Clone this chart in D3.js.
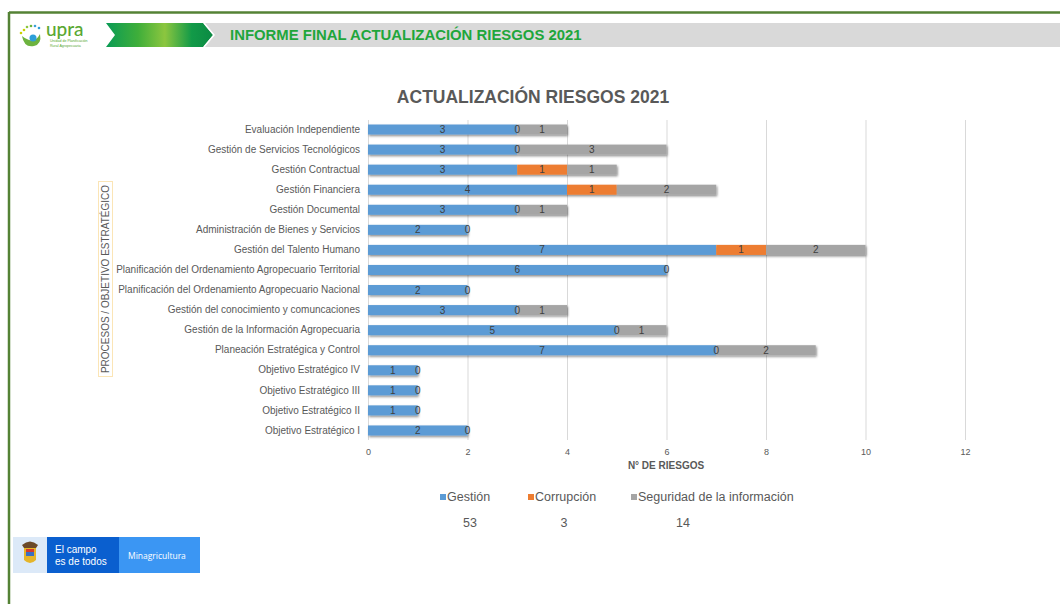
<!DOCTYPE html>
<html>
<head>
<meta charset="utf-8">
<script src="https://cdn.jsdelivr.net/npm/d3@7"></script>
<style>
  body { margin: 0; background: #fff; }
  svg { display: block; font-family: "Liberation Sans", Arial, sans-serif; }
</style>
</head>
<body>
<svg id="chart" width="1060" height="604"></svg>
<script>
// categories, top to bottom
const categories = [
  'Evaluación Independiente',
  'Gestión de Servicios Tecnológicos',
  'Gestión Contractual',
  'Gestión Financiera',
  'Gestión Documental',
  'Administración de Bienes y Servicios',
  'Gestión del Talento Humano',
  'Planificación del Ordenamiento Agropecuario Territorial',
  'Planificación del Ordenamiento Agropecuario Nacional',
  'Gestión del conocimiento y comuncaciones',
  'Gestión de la Información Agropecuaria',
  'Planeación Estratégica y Control',
  'Objetivo Estratégico IV',
  'Objetivo Estratégico III',
  'Objetivo Estratégico II',
  'Objetivo Estratégico I'
];
const gestion    = [3, 3, 3, 4, 3, 2, 7, 6, 2, 3, 5, 7, 1, 1, 1, 2];
const corrupcion = [0, 0, 1, 1, 0, 0, 1, 0, 0, 0, 0, 0, 0, 0, 0, 0];
const seguridad  = [1, 3, 1, 2, 1, 0, 2, 0, 0, 1, 1, 2, 0, 0, 0, 0];
const seriesNames = ['Gestión', 'Corrupción', 'Seguridad de la información'];
const xTicks = [0, 2, 4, 6, 8, 10, 12];

const colors = ['#5b9bd5', '#ed7d31', '#a5a5a5'];
const textGray = '#595959';

const svg = d3.select('#chart');
const defs = svg.append('defs');

// drop shadow for the bars
const shadow = defs.append('filter').attr('id', 'shadow')
  .attr('x', '-5%').attr('y', '-40%').attr('width', '110%').attr('height', '200%');
shadow.append('feDropShadow')
  .attr('dx', 1).attr('dy', 1.5).attr('stdDeviation', 1)
  .attr('flood-color', '#000').attr('flood-opacity', 0.45);

// ---------- page frame & header ----------
svg.append('line').attr('x1', 9).attr('x2', 1060).attr('y1', 12.5).attr('y2', 12.5)
  .attr('stroke', '#548235').attr('stroke-width', 2.5);
svg.append('line').attr('x1', 9).attr('x2', 9).attr('y1', 12).attr('y2', 604)
  .attr('stroke', '#548235').attr('stroke-width', 2.5);

svg.append('rect').attr('x', 200).attr('y', 23).attr('width', 860).attr('height', 24)
  .attr('fill', '#d9d9d9');

const grad = defs.append('linearGradient').attr('id', 'hdrGrad');
grad.append('stop').attr('offset', '0%').attr('stop-color', '#0a9b55');
grad.append('stop').attr('offset', '30%').attr('stop-color', '#3fae3a');
grad.append('stop').attr('offset', '55%').attr('stop-color', '#8cc63f');
grad.append('stop').attr('offset', '80%').attr('stop-color', '#129a48');
grad.append('stop').attr('offset', '100%').attr('stop-color', '#0b8a43');
svg.append('polygon')
  .attr('points', '106,23 203,23 213,35 203,47 106,47 115,35')
  .attr('fill', 'url(#hdrGrad)');
svg.append('polyline')
  .attr('points', '204,23 214,35 204,47')
  .attr('fill', 'none').attr('stroke', '#fff').attr('stroke-width', 1.5);
svg.append('polygon')
  .attr('points', '96,24 103,24 111,35 103,46 96,46 104,35')
  .attr('fill', '#fff');

// upra logo (approximation)
const logo = svg.append('g');
logo.append('path').attr('d', 'M22,36 Q24,48 34,46 Q42,44 40,34 Q36,42 29,40 Q24,38 22,36 Z')
  .attr('fill', '#6db33f');
logo.append('circle').attr('cx', 33).attr('cy', 38).attr('r', 3.5).attr('fill', '#2e9fd8');
[[24, 30, '#c9d400'], [27, 27, '#8cc63f'], [31, 26, '#6db33f'], [35, 26, '#3aa0d8'], [39, 28, '#2e9fd8'], [21, 33, '#c9d400']]
  .forEach(d => logo.append('circle').attr('cx', d[0]).attr('cy', d[1]).attr('r', 1.3).attr('fill', d[2]));
logo.append('text').attr('x', 46).attr('y', 36).attr('font-size', 19).attr('fill', '#5aa832')
  .attr('font-family', 'Lato, sans-serif').attr('font-weight', 500).text('upra');
logo.append('text').attr('x', 50).attr('y', 42).attr('font-size', 3.6).attr('fill', '#5aa832')
  .text('Unidad de Planificación');
logo.append('text').attr('x', 50).attr('y', 46.5).attr('font-size', 3.6).attr('fill', '#5aa832')
  .text('Rural Agropecuaria');

svg.append('text').attr('x', 230).attr('y', 40)
  .attr('font-size', 14.9).attr('font-weight', 'bold').attr('fill', '#1fa63b')
  .text('INFORME FINAL ACTUALIZACIÓN RIESGOS 2021');

// ---------- chart ----------
const rows = categories.map((c, i) => ({
  name: c,
  values: [gestion[i], corrupcion[i], seguridad[i]]
}));

const x = d3.scaleLinear().domain([0, 12]).range([368, 965]);
const y = d3.scaleBand().domain(categories).range([119.5, 440.5]).paddingInner(0.5).paddingOuter(0.25);

svg.append('text').attr('x', 533).attr('y', 103).attr('text-anchor', 'middle')
  .attr('font-size', 17.5).attr('font-weight', 'bold').attr('fill', textGray)
  .text('ACTUALIZACIÓN RIESGOS 2021');

// gridlines
svg.append('g')
  .attr('transform', 'translate(0,440)')
  .call(d3.axisBottom(x).tickValues(xTicks).tickSize(-320).tickFormat(''))
  .call(g => g.select('.domain').remove())
  .call(g => g.selectAll('line').attr('stroke', '#d9d9d9'));

// x axis labels
svg.append('g')
  .attr('transform', 'translate(0,446)')
  .call(d3.axisBottom(x).tickValues(xTicks).tickSize(0).tickPadding(3))
  .call(g => g.select('.domain').remove())
  .call(g => g.selectAll('text').attr('font-size', 9).attr('fill', textGray)
    .attr('font-family', '"Liberation Sans", Arial, sans-serif'));

svg.append('text').attr('x', 666).attr('y', 469).attr('text-anchor', 'middle')
  .attr('font-size', 10).attr('font-weight', 'bold').attr('fill', textGray)
  .text('N° DE RIESGOS');

// y axis labels
svg.append('g')
  .attr('transform', 'translate(368,0)')
  .call(d3.axisLeft(y).tickSize(0).tickPadding(8))
  .call(g => g.select('.domain').remove())
  .call(g => g.selectAll('text').attr('font-size', 10).attr('fill', textGray)
    .attr('font-family', '"Liberation Sans", Arial, sans-serif'));

// y axis title
svg.append('rect').attr('x', 98.5).attr('y', 181.5).attr('width', 14).attr('height', 195)
  .attr('fill', 'none').attr('stroke', '#fbe5b6').attr('stroke-width', 1);
svg.append('text')
  .attr('transform', 'translate(109,279) rotate(-90)')
  .attr('text-anchor', 'middle').attr('font-size', 10).attr('fill', textGray)
  .text('PROCESOS / OBJETIVO ESTRATÉGICO');

// stacked bars
const segs = [];
rows.forEach(r => {
  let acc = 0;
  r.values.forEach((v, k) => {
    segs.push({ name: r.name, k: k, v: v, x0: acc, x1: acc + v });
    acc += v;
  });
});

const barG = svg.append('g');
rows.forEach(r => {
  const g = barG.append('g').attr('filter', 'url(#shadow)');
  g.selectAll('rect')
    .data(segs.filter(s => s.name === r.name && s.v > 0))
    .enter().append('rect')
    .attr('x', s => x(s.x0))
    .attr('y', s => y(s.name))
    .attr('width', s => x(s.x1) - x(s.x0))
    .attr('height', y.bandwidth())
    .attr('fill', s => colors[s.k]);
});

// data labels (zeros for Seguridad would sit on top of the Corrupción zero)
svg.append('g').selectAll('text')
  .data(segs.filter(s => !(s.k === 2 && s.v === 0)))
  .enter().append('text')
  .attr('x', s => x((s.x0 + s.x1) / 2))
  .attr('y', s => y(s.name) + y.bandwidth() / 2 + 3.5)
  .attr('text-anchor', 'middle')
  .attr('font-size', 10).attr('fill', '#404040')
  .text(s => s.v);

// legend + totals
const legendX = [440, 528, 631];
const totals = [d3.sum(gestion), d3.sum(corrupcion), d3.sum(seguridad)];
const totalX = [470, 564, 683];
seriesNames.forEach((n, k) => {
  svg.append('rect').attr('x', legendX[k]).attr('y', 494).attr('width', 6).attr('height', 6)
    .attr('fill', colors[k]);
  svg.append('text').attr('x', legendX[k] + 7).attr('y', 501)
    .attr('font-size', 12.5).attr('fill', textGray).text(n);
  svg.append('text').attr('x', totalX[k]).attr('y', 527).attr('text-anchor', 'middle')
    .attr('font-size', 12.5).attr('fill', textGray).text(totals[k]);
});

// ---------- footer logo ----------
svg.append('rect').attr('x', 13).attr('y', 537).attr('width', 34).attr('height', 36).attr('fill', '#dce9f8');
const shield = svg.append('g');
shield.append('path').attr('d', 'M22,545 Q30,538 38,545 L36,548 L24,548 Z').attr('fill', '#6b4a2a');
shield.append('path').attr('d', 'M24,548 L36,548 L36,560 Q30,566 24,560 Z').attr('fill', '#e5b52a');
shield.append('rect').attr('x', 26).attr('y', 552).attr('width', 8).attr('height', 4).attr('fill', '#3a6fc4');
shield.append('rect').attr('x', 26).attr('y', 549).attr('width', 8).attr('height', 3).attr('fill', '#d43b2f');
svg.append('rect').attr('x', 47).attr('y', 537).attr('width', 72).attr('height', 36).attr('fill', '#0a5fcf');
svg.append('rect').attr('x', 119).attr('y', 537).attr('width', 81).attr('height', 36).attr('fill', '#3b96f3');
svg.append('text').attr('x', 55).attr('y', 553).attr('font-size', 10).attr('fill', '#fff')
  .text('El campo');
svg.append('text').attr('x', 55).attr('y', 565).attr('font-size', 10).attr('fill', '#fff')
  .text('es de todos');
svg.append('text').attr('x', 128).attr('y', 559).attr('font-size', 8.5).attr('fill', '#fff')
  .attr('font-family', '"Open Sans", sans-serif').text('Minagricultura');
</script>
</body>
</html>
